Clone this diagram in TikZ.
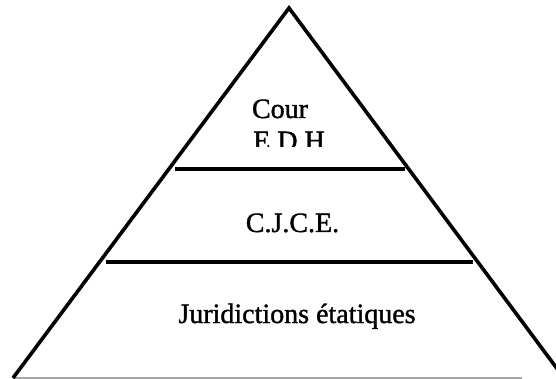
\documentclass[tikz,border=0pt]{standalone}
\usepackage{fontspec}
\setmainfont{Liberation Serif}
\newfontfamily\heavyserif{Liberation Serif}[RawFeature={embolden=1.3}]
\begin{document}
\begin{tikzpicture}[x=1pt,y=-1pt,
  side/.style={line width=3.6pt,line join=miter},
  tier/.style={line width=3.2pt},
  baseln/.style={line width=1.3pt,draw=black!35},
  lbl/.style={anchor=base,inner sep=0pt,font=\heavyserif\fontsize{28}{32}\selectfont}]
\useasboundingbox (0,0) rectangle (556,379);
\clip (0,0) rectangle (556,379);
\coordinate (apex) at (289,8);
\coordinate (bl) at (13,378);
\coordinate (br) at (564,378);
\coordinate (baseend) at (522,378);
\coordinate (t1l) at (175,169);
\coordinate (t1r) at (405,169);
\coordinate (t2l) at (106,262);
\coordinate (t2r) at (473,262);
\draw[baseln] (bl) -- (baseend);
\draw[side] (bl) -- (apex) -- (br);
\draw[tier] (t1l) -- (t1r);
\draw[tier] (t2l) -- (t2r);
\node[lbl] (cour) at (280,118) {Cour};
\begin{scope}
  \clip (0,0) rectangle (556,147);
  \node[lbl] (edh) at (289,150) {E.D.H};
\end{scope}
\node[lbl] (cjce) at (292.5,232) {C.J.C.E.};
\node[lbl] (jur) at (297,323) {Juridictions étatiques};
\end{tikzpicture}
\end{document}
